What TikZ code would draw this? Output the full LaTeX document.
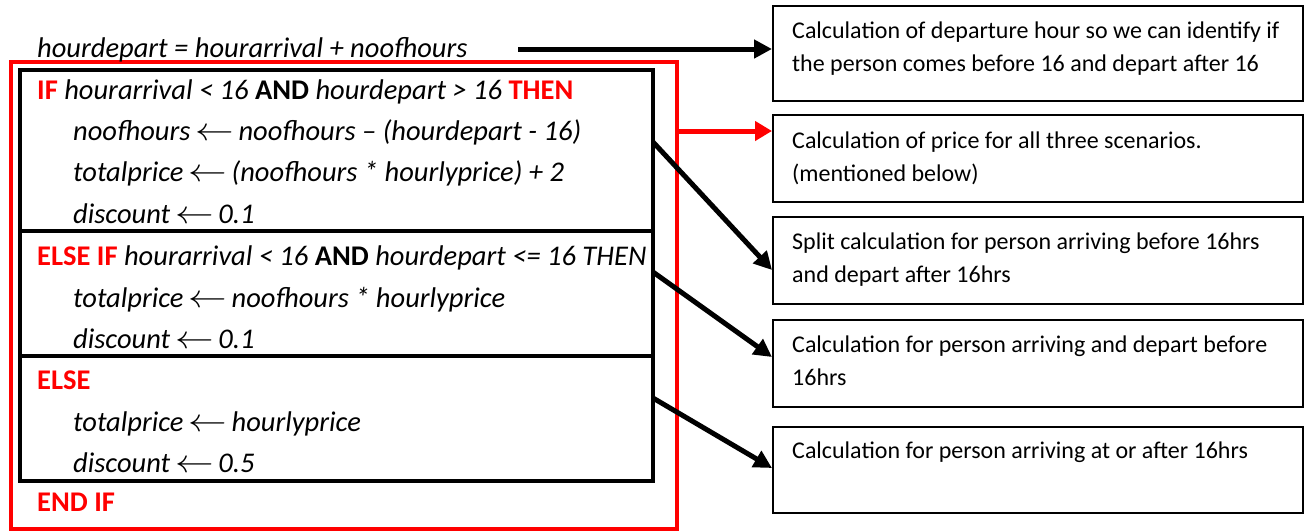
\documentclass[tikz,border=0pt]{standalone}
\usepackage{fontspec}
\setmainfont{Carlito}
\usetikzlibrary{arrows.meta}
\definecolor{kred}{RGB}{255,0,0}
\newcommand{\kw}[1]{\textbf{\upshape\textcolor{kred}{#1}}}
\newcommand{\la}{\,\scalebox{1.55}[1.3]{$\leftarrow$}\,}
\tikzset{
  code/.style={anchor=base west, inner sep=0pt, font=\fontsize{28.5}{32}\selectfont\itshape},
  desc/.style={anchor=base west, inner sep=0pt, font=\fontsize{24}{28}\selectfont},
  cbox/.style={draw=black, line width=4pt},
  dbox/.style={draw=black, line width=2.2pt},
  arr/.style={line width=5pt, -{Triangle[length=18pt,width=18pt]}},
  rarr/.style={draw=kred, line width=5pt, -{Triangle[length=17pt,width=19pt]}}
}
\begin{document}
\begin{tikzpicture}[x=1pt,y=-1pt]
\useasboundingbox (0,0) rectangle (1307,531);
% red frame
\draw[kred, line width=3.5pt] (11,62) rectangle (677,529);
\coordinate (redR) at (677,131);
% black boxes
\draw[cbox] (20,70) rectangle (653,231);
\draw[cbox] (20,231) rectangle (653,356);
\draw[cbox] (20,356) rectangle (653,481);
\coordinate (s1) at (653,142);
\coordinate (s2) at (653,272);
\coordinate (s3) at (653,398);
% code text
\node[code] (hd) at (37,57) {hourdepart = hourarrival + noofhours};
\node[code] (l1) at (37,99) {\kw{IF} hourarrival < 16 \textbf{\upshape AND} hourdepart > 16 \kw{THEN}};
\node[code] (l2) at (73,140) {noofhours\la noofhours -- (hourdepart - 16)};
\node[code] (l3) at (73,181) {totalprice\la (noofhours * hourlyprice) + 2};
\node[code] (l4) at (73,223) {discount\la 0.1};
\node[code] (l5) at (37,265) {\kw{ELSE IF} hourarrival < 16 \textbf{\upshape AND} hourdepart <= 16 THEN};
\node[code] (l6) at (73,307) {totalprice\la noofhours * hourlyprice};
\node[code] (l7) at (73,348) {discount\la 0.1};
\node[code] (l8) at (37,389) {\kw{ELSE}};
\node[code] (l9) at (73,431) {totalprice\la hourlyprice};
\node[code] (l10) at (73,472) {discount\la 0.5};
\node[code] (l11) at (37,511) {\kw{END IF}};
% description boxes
\node[dbox, anchor=north west, minimum width=530pt, minimum height=95pt] (b1) at (772,5) {};
\node[dbox, anchor=north west, minimum width=530pt, minimum height=87pt] (b2) at (772,114) {};
\node[dbox, anchor=north west, minimum width=530pt, minimum height=87pt] (b3) at (772,216) {};
\node[dbox, anchor=north west, minimum width=530pt, minimum height=87pt] (b4) at (772,319) {};
\node[dbox, anchor=north west, minimum width=530pt, minimum height=86pt] (b5) at (772,426) {};
\node[desc] (t1a) at (792,38) {Calculation of departure hour so we can identify if};
\node[desc] (t1b) at (792,71.5) {the person comes before 16 and depart after 16};
\node[desc] (t2a) at (792,148) {Calculation of price for all three scenarios.};
\node[desc] (t2b) at (792,181) {(mentioned below)};
\node[desc] (t3a) at (792,249) {Split calculation for person arriving before 16hrs};
\node[desc] (t3b) at (792,282.5) {and depart after 16hrs};
\node[desc] (t4a) at (792,352.5) {Calculation for person arriving and depart before};
\node[desc] (t4b) at (792,385) {16hrs};
\node[desc] (t5a) at (792,458) {Calculation for person arriving at or after 16hrs};
% connectors
\coordinate (a0) at (518,49);
\draw[arr] (a0) -- (a0 -| b1.west);
\draw[rarr] (redR) -- (redR -| b2.west);
\draw[arr] (s1) -- (b3.west |- 0,270);
\draw[arr] (s2) -- (b4.west |- 0,357);
\draw[arr] (s3) -- (b5.west |- 0,468);
\end{tikzpicture}
\end{document}
